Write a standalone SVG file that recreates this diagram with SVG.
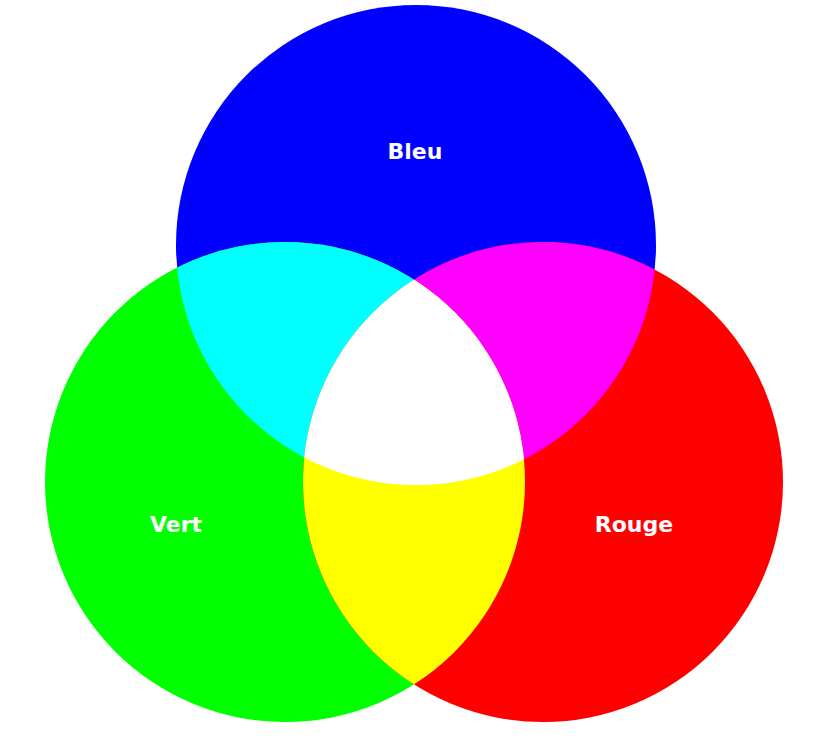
<svg xmlns="http://www.w3.org/2000/svg" width="828" height="740" viewBox="0 0 828 740">
  <style>
    .lbl { font-family: "DejaVu Sans", "Liberation Sans", sans-serif; font-weight: bold; font-size: 22px; fill: #ffffff; text-anchor: middle; }
  </style>
  <defs>
    <clipPath id="clipBlue"><circle cx="416" cy="245" r="240"/></clipPath>
    <clipPath id="clipGreen"><circle cx="285" cy="482" r="240"/></clipPath>
  </defs>
  <rect width="828" height="740" fill="#ffffff"/>
  <g id="bleu">
    <circle cx="416" cy="245" r="240" fill="#0000ff"/>
  </g>
  <g id="vert">
    <circle cx="285" cy="482" r="240" fill="#00ff00"/>
  </g>
  <g id="rouge">
    <circle cx="543" cy="482" r="240" fill="#ff0000"/>
  </g>
  <g id="cyan">
    <circle cx="285" cy="482" r="240" fill="#00ffff" clip-path="url(#clipBlue)"/>
  </g>
  <g id="magenta">
    <circle cx="543" cy="482" r="240" fill="#ff00ff" clip-path="url(#clipBlue)"/>
  </g>
  <g id="jaune">
    <circle cx="543" cy="482" r="240" fill="#ffff00" clip-path="url(#clipGreen)"/>
  </g>
  <g id="blanc" clip-path="url(#clipBlue)">
    <circle cx="543" cy="482" r="240" fill="#ffffff" clip-path="url(#clipGreen)"/>
  </g>
  <g id="labels">
    <text class="lbl" x="415" y="159">Bleu</text>
    <text class="lbl" x="176" y="532">Vert</text>
    <text class="lbl" x="634" y="532">Rouge</text>
  </g>
</svg>
